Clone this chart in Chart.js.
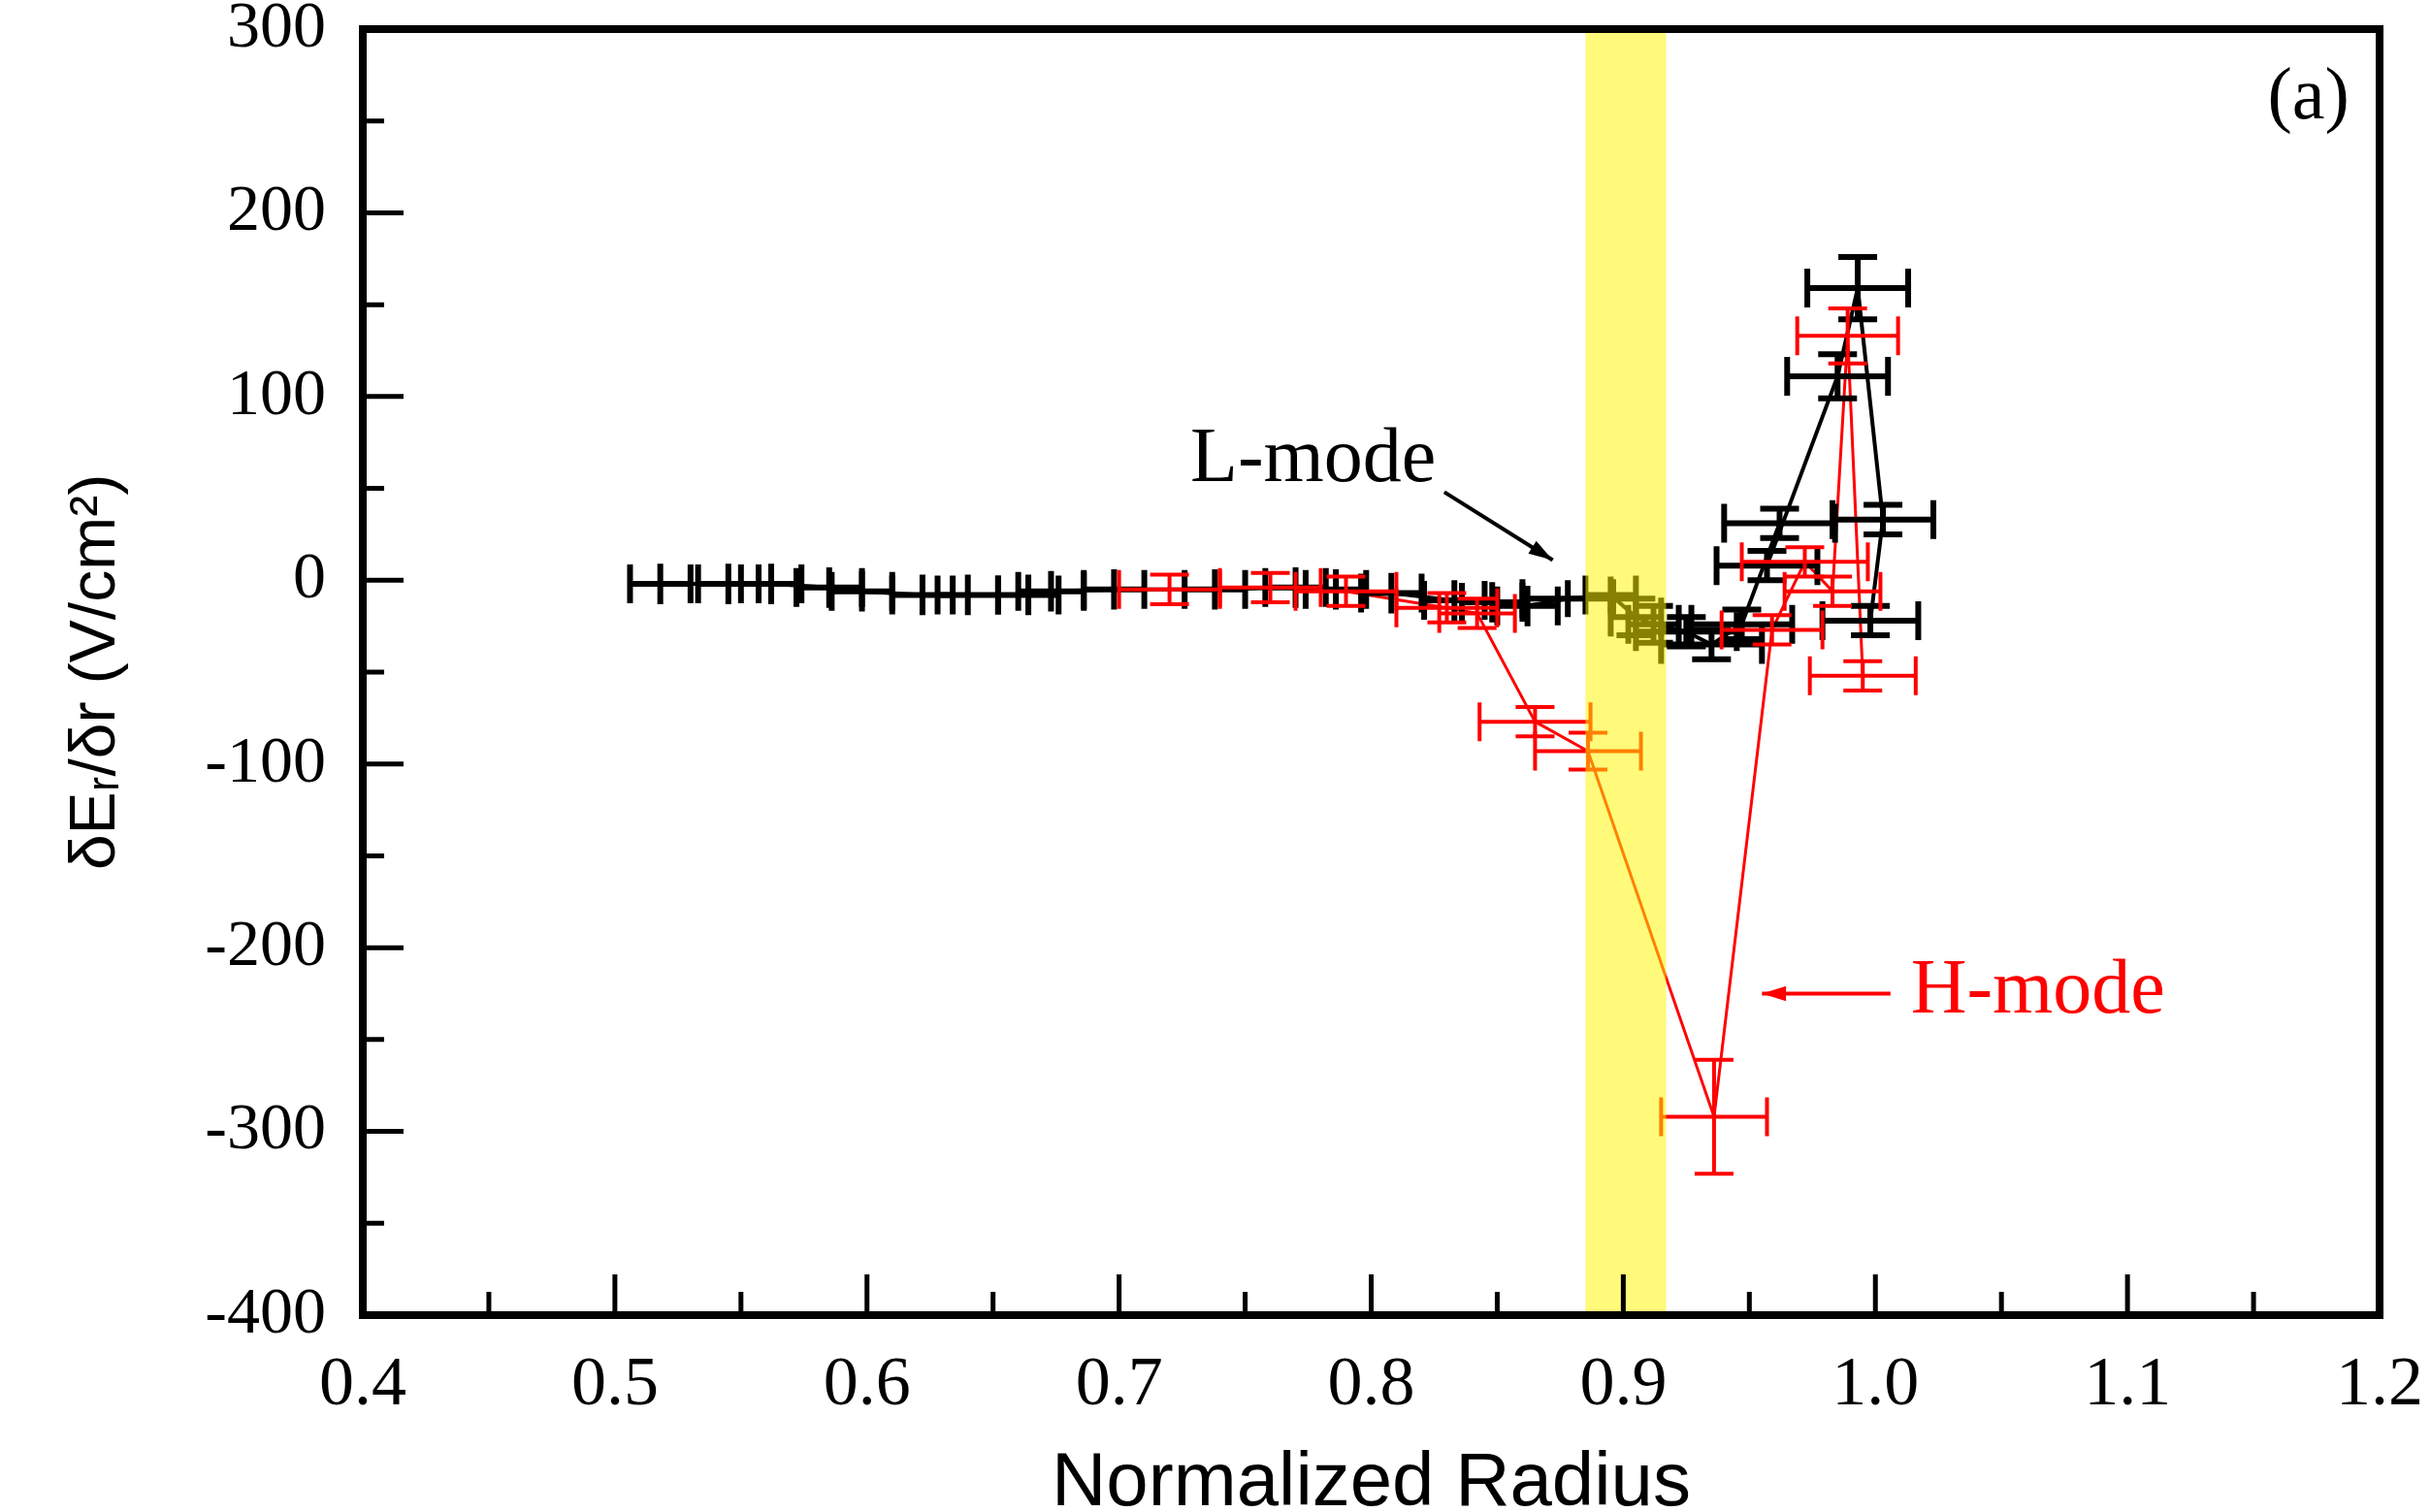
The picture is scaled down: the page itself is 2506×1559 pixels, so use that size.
<!DOCTYPE html>
<html>
<head>
<meta charset="utf-8">
<script src="https://cdn.jsdelivr.net/npm/chart.js@4.4.1/dist/chart.umd.min.js"></script>
<style>
  body { margin: 0; background: #fff; }
  #wrap { width: 2506px; height: 1559px; position: relative; }
</style>
</head>
<body>
<div id="wrap"><canvas id="myChart"></canvas></div>
<script>
// L-mode profile (black)
var lModeR    = [0.518, 0.545, 0.562, 0.585, 0.598, 0.622, 0.640, 0.664, 0.673, 0.698, 0.738, 0.770, 0.786, 0.808, 0.833, 0.848, 0.862, 0.878, 0.895, 0.905, 0.912, 0.925, 0.935, 0.947, 0.962, 0.957, 0.985, 0.993, 1.003, 0.998];
var lModeE    = [-2, -2, -2, -4, -6, -8, -8, -8, -6, -5, -5, -4, -5, -7, -11, -12, -14, -10, -8, -20, -24, -28, -35, -24, 31, 8, 111, 159, 33, -22];
var lModeRErr = [0.012, 0.012, 0.012, 0.013, 0.012, 0.012, 0.012, 0.012, 0.013, 0.012, 0.012, 0.012, 0.012, 0.012, 0.012, 0.012, 0.012, 0.018, 0.010, 0.010, 0.010, 0.020, 0.020, 0.020, 0.022, 0.020, 0.020, 0.020, 0.020, 0.019];
var lModeEErr = [11, 11, 11, 11, 11, 11, 11, 11, 11, 11, 11, 11, 11, 11, 11, 11, 11, 10, 10, 10, 10, 8, 8, 8, 8, 8, 12, 17, 8, 8];

// H-mode profile (red)
var hModeR    = [0.720, 0.760, 0.790, 0.830, 0.842, 0.865, 0.886, 0.936, 0.959, 0.972, 0.983, 0.989, 0.995];
var hModeE    = [-5, -4, -6, -15, -18, -77, -93, -292, -27, 10, -6, 133, -52];
var hModeRErr = [0.020, 0.020, 0.020, 0.020, 0.015, 0.022, 0.021, 0.021, 0.020, 0.025, 0.019, 0.020, 0.021];
var hModeEErr = [8, 8, 8, 8, 8, 8, 10, 31, 8, 8, 8, 15, 8];

// pedestal region (shaded)
var bandR = [0.885, 0.917];

function toPoints(r, e, rErr, eErr) {
    var out = [];
    for (var i = 0; i < r.length; i++) {
        out.push({ x: r[i], y: e[i], xe: rErr[i], ye: eErr[i] });
    }
    return out;
}

// error bars, shaded band, labels
var extras = {
    id: 'extras',
    afterDatasetsDraw: function(chart) {
        var ctx = chart.ctx, xs = chart.scales.x, ys = chart.scales.y, a = chart.chartArea;
        ctx.save();
        ctx.beginPath();
        ctx.rect(a.left, a.top, a.right - a.left, a.bottom - a.top);
        ctx.clip();
        chart.data.datasets.forEach(function(ds) {
            ctx.strokeStyle = ds.borderColor;
            ctx.lineWidth = ds.errWidth;
            ds.data.forEach(function(p) {
                var px = xs.getPixelForValue(p.x), py = ys.getPixelForValue(p.y);
                var x1 = xs.getPixelForValue(p.x - p.xe), x2 = xs.getPixelForValue(p.x + p.xe);
                var y1 = ys.getPixelForValue(p.y - p.ye), y2 = ys.getPixelForValue(p.y + p.ye);
                ctx.beginPath();
                ctx.moveTo(x1, py); ctx.lineTo(x2, py);
                ctx.moveTo(x1, py - 20); ctx.lineTo(x1, py + 20);
                ctx.moveTo(x2, py - 20); ctx.lineTo(x2, py + 20);
                ctx.moveTo(px, y1); ctx.lineTo(px, y2);
                // only the edge points carry caps on the vertical bars
                if (p.x > 0.9 || ds.label === 'H-mode') {
                    ctx.moveTo(px - 20, y1); ctx.lineTo(px + 20, y1);
                    ctx.moveTo(px - 20, y2); ctx.lineTo(px + 20, y2);
                }
                ctx.stroke();
            });
        });
        // yellow band on top of the data
        ctx.fillStyle = 'rgba(255, 246, 0, 0.52)';
        var b1 = xs.getPixelForValue(bandR[0]), b2 = xs.getPixelForValue(bandR[1]);
        ctx.fillRect(b1, a.top, b2 - b1, a.bottom - a.top);
        ctx.restore();

        // annotations
        ctx.save();
        ctx.font = '80px "Liberation Serif"';
        ctx.textBaseline = 'middle';
        ctx.fillStyle = '#000';
        ctx.textAlign = 'center';
        ctx.fillText('L-mode', xs.getPixelForValue(0.777), ys.getPixelForValue(65));
        arrow(ctx, xs.getPixelForValue(0.829), ys.getPixelForValue(48), xs.getPixelForValue(0.872), ys.getPixelForValue(11), '#000');
        ctx.fillStyle = '#ff0000';
        ctx.textAlign = 'left';
        ctx.fillText('H-mode', xs.getPixelForValue(1.014), ys.getPixelForValue(-224));
        arrow(ctx, xs.getPixelForValue(1.006), ys.getPixelForValue(-225), xs.getPixelForValue(0.955), ys.getPixelForValue(-225), '#ff0000');
        ctx.fillStyle = '#000';
        ctx.textAlign = 'right';
        ctx.font = '76px "Liberation Serif"';
        ctx.fillText('(a)', xs.getPixelForValue(1.188), ys.getPixelForValue(262));
        ctx.restore();
    },
    afterDraw: function(chart) {
        var ctx = chart.ctx, xs = chart.scales.x, ys = chart.scales.y, a = chart.chartArea;
        ctx.save();
        ctx.strokeStyle = '#000';
        ctx.lineWidth = 5;
        ctx.beginPath();
        for (var v = -400; v <= 300; v += 50) {
            var py = ys.getPixelForValue(v);
            var len = (v % 100 === 0) ? 42 : 22;
            ctx.moveTo(a.left, py); ctx.lineTo(a.left + len, py);
        }
        for (var k = 8; k <= 24; k++) {
            var px = xs.getPixelForValue(k / 20);
            var len2 = (k % 2 === 0) ? 42 : 24;
            ctx.moveTo(px, a.bottom); ctx.lineTo(px, a.bottom - len2);
        }
        ctx.stroke();
        ctx.lineWidth = 8;
        ctx.strokeRect(a.left, a.top, a.right - a.left, a.bottom - a.top);
        ctx.restore();
    }
};

function arrow(ctx, x1, y1, x2, y2, col) {
    var ang = Math.atan2(y2 - y1, x2 - x1);
    ctx.save();
    ctx.strokeStyle = col;
    ctx.fillStyle = col;
    ctx.lineWidth = 4;
    ctx.beginPath();
    ctx.moveTo(x1, y1); ctx.lineTo(x2, y2);
    ctx.stroke();
    ctx.beginPath();
    ctx.moveTo(x2, y2);
    ctx.lineTo(x2 - 26 * Math.cos(ang - 0.3), y2 - 26 * Math.sin(ang - 0.3));
    ctx.lineTo(x2 - 26 * Math.cos(ang + 0.3), y2 - 26 * Math.sin(ang + 0.3));
    ctx.closePath();
    ctx.fill();
    ctx.restore();
}

var ctx = document.getElementById('myChart').getContext('2d');
var myChart = new Chart(ctx, {
    type: 'scatter',
    data: {
        datasets: [{
            label: 'L-mode',
            data: toPoints(lModeR, lModeE, lModeRErr, lModeEErr),
            borderColor: '#000000',
            backgroundColor: '#000000',
            showLine: true,
            borderWidth: 4,
            pointRadius: 0,
            errWidth: 6
        }, {
            label: 'H-mode',
            data: toPoints(hModeR, hModeE, hModeRErr, hModeEErr),
            borderColor: '#ff0000',
            backgroundColor: '#ff0000',
            showLine: true,
            borderWidth: 3,
            pointRadius: 0,
            errWidth: 4
        }]
    },
    options: {
        responsive: true,
        maintainAspectRatio: false,
        animation: false,
        layout: { padding: { top: 30, right: 53, left: 0, bottom: 0 } },
        plugins: {
            legend: { display: false },
            tooltip: { enabled: false }
        },
        scales: {
            x: {
                type: 'linear',
                min: 0.4,
                max: 1.2,
                grid: { display: false, drawTicks: false },
                border: { display: false },
                afterFit: function(scale) {
                    scale.height = 203;
                    scale.paddingLeft = 0;
                    scale.paddingRight = 0;
                },
                ticks: {
                    stepSize: 0.1,
                    padding: 30,
                    maxRotation: 0,
                    color: '#000',
                    font: { family: 'Liberation Serif', size: 72 },
                    callback: function(v) { return v.toFixed(1); }
                },
                title: {
                    display: true,
                    text: 'Normalized Radius',
                    color: '#000',
                    font: { family: 'Liberation Sans', size: 78 },
                    padding: { top: 0, bottom: -18 }
                }
            },
            y: {
                type: 'linear',
                min: -400,
                max: 300,
                grid: { display: false, drawTicks: false },
                border: { display: false },
                afterFit: function(scale) {
                    scale.width = 374;
                    scale.paddingTop = 0;
                    scale.paddingBottom = 0;
                },
                ticks: {
                    stepSize: 100,
                    padding: 38,
                    color: '#000',
                    font: { family: 'Liberation Serif', size: 68 }
                },
                title: {
                    display: true,
                    text: 'δEᵣ/δr (V/cm²)',
                    color: '#000',
                    font: { family: 'Liberation Sans', size: 66 },
                    padding: { top: 60, bottom: 0 }
                }
            }
        }
    },
    plugins: [extras]
});
</script>
</body>
</html>
